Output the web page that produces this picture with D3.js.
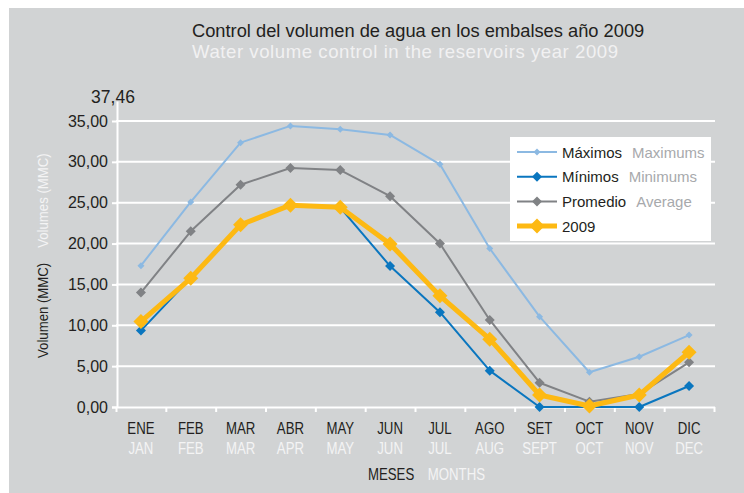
<!DOCTYPE html>
<html>
<head>
<meta charset="utf-8">
<script src="https://cdn.jsdelivr.net/npm/d3@7"></script>
<style>
html,body{margin:0;padding:0;background:#fff;}
svg{display:block;}
</style>
</head>
<body>
<svg id="chart" width="744" height="493"></svg>
<script>
// ---- data ----
const monthsEs = ["ENE","FEB","MAR","ABR","MAY","JUN","JUL","AGO","SET","OCT","NOV","DIC"];
const monthsEn = ["JAN","FEB","MAR","APR","MAY","JUN","JUL","AUG","SEPT","OCT","NOV","DEC"];
const maximos  = [17.3, 25.1, 32.35, 34.4, 34.0, 33.3, 29.7, 19.4, 11.05, 4.25, 6.15, 8.8];
const minimos  = [9.35, 15.8, 22.2, 24.7, 24.4, 17.25, 11.6, 4.45, 0.0, 0.0, 0.0, 2.57];
const promedio = [14.0, 21.5, 27.2, 29.25, 29.0, 25.8, 20.0, 10.65, 2.97, 0.65, 1.6, 5.47];
const y2009    = [10.45, 15.75, 22.3, 24.7, 24.45, 19.95, 13.6, 8.3, 1.47, 0.12, 1.47, 6.7];
const yTicks   = [0, 5, 10, 15, 20, 25, 30, 35];
const yMax = 37.46;
const seriesNamesEs = ["Máximos","Mínimos","Promedio","2009"];
const seriesNamesEn = ["Maximums","Minimums","Average",""];

const svg = d3.select("#chart");
const W = 744, H = 493;
const font = "'Liberation Sans', Arial, sans-serif";
const condense = 0.8;

// background
svg.append("rect").attr("x", 9).attr("y", 8).attr("width", W - 9).attr("height", H - 8).attr("fill", "#d1d3d4");

// scales
const x0 = 116, x1 = 714, yZero = 407, pxPerUnit = 286 / 35;
const x = d3.scaleBand().domain(monthsEs).range([x0, x1]);
const xLin = d3.scaleLinear().domain([0, 12]).range([x0, x1]);
const y = d3.scaleLinear().domain([0, yMax]).range([yZero, yZero - yMax * pxPerUnit]);
const cx = m => x(m) + x.bandwidth() / 2;

// gridlines
svg.append("g").selectAll("line").data(yTicks.filter(d => d > 0)).join("line")
  .attr("x1", x0).attr("x2", x1 + 1)
  .attr("y1", d => y(d)).attr("y2", d => y(d))
  .attr("stroke", "#ffffff").attr("stroke-width", 2);

// y axis
const fmt = d => d3.format(".2f")(d).replace(".", ",");
const yAxis = svg.append("g").attr("transform", `translate(${x0 + 1},0)`)
  .call(d3.axisLeft(y).tickValues(yTicks).tickFormat(fmt).tickSize(5).tickSizeOuter(0).tickPadding(4));
yAxis.select(".domain").attr("stroke", "#fff").attr("stroke-width", 2);
yAxis.selectAll(".tick line").attr("stroke", "#fff").attr("stroke-width", 2);
yAxis.selectAll(".tick text").attr("font-family", font).attr("font-size", 16).attr("fill", "#231f20");

// top label
svg.append("text").attr("x", 113).attr("y", 103).attr("text-anchor", "middle")
  .attr("font-family", font).attr("font-size", 17.5).attr("fill", "#231f20").text(fmt(yMax));

// x axis
const xAxis = svg.append("g").attr("transform", `translate(0,${yZero})`)
  .call(d3.axisBottom(xLin).tickValues(d3.range(0, 13)).tickFormat("").tickSize(5).tickSizeOuter(0));
xAxis.select(".domain").attr("stroke", "#fff").attr("stroke-width", 2).attr("d", `M${x0 - 4},0.5H${x1 + 1}`);
xAxis.selectAll(".tick line").attr("stroke", "#fff").attr("stroke-width", 2);

// x labels (condensed look)
const lblG = svg.append("g").attr("font-family", font).attr("font-size", 16.5).attr("text-anchor", "middle");
lblG.selectAll("text.es").data(monthsEs).join("text").attr("class", "es")
  .attr("transform", d => `translate(${cx(d)},434) scale(${condense},1)`).attr("fill", "#231f20").text(d => d);
lblG.selectAll("text.en").data(monthsEn).join("text").attr("class", "en")
  .attr("transform", (d, i) => `translate(${cx(monthsEs[i])},454) scale(${condense},1)`).attr("fill", "#f4f4f4").text(d => d);

const xt = svg.append("text").attr("transform", `translate(368,480) scale(${condense},1)`)
  .attr("font-family", font).attr("font-size", 16.5);
xt.append("tspan").attr("fill", "#231f20").text("MESES");
xt.append("tspan").attr("dx", 17).attr("fill", "#f4f4f4").text("MONTHS");

// y title
const yt = svg.append("text").attr("transform", "translate(47.5,358) rotate(-90) scale(0.88,1)")
  .attr("font-family", font).attr("font-size", 15);
yt.append("tspan").attr("fill", "#231f20").text("Volumen (MMC)");
yt.append("tspan").attr("dx", 17).attr("fill", "#f4f4f4").text("Volumes (MMC)");

// title
svg.append("text").attr("x", 192).attr("y", 37).attr("font-family", font).attr("font-size", 18.3)
  .attr("fill", "#231f20").text("Control del volumen de agua en los embalses año 2009");
svg.append("text").attr("x", 192).attr("y", 58).attr("font-family", font).attr("font-size", 18.6)
  .attr("textLength", 426).attr("lengthAdjust", "spacing")
  .attr("fill", "#f1f1f2").text("Water volume control in the reservoirs year 2009");

// series
const series = [
  {es: seriesNamesEs[0], en: seriesNamesEn[0], values: maximos,  color: "#8cb9e2", width: 2,   r: 3.5},
  {es: seriesNamesEs[1], en: seriesNamesEn[1], values: minimos,  color: "#0a76bf", width: 2,   r: 5},
  {es: seriesNamesEs[2], en: seriesNamesEn[2], values: promedio, color: "#808285", width: 2,   r: 5},
  {es: seriesNamesEs[3], en: seriesNamesEn[3], values: y2009,    color: "#fdb913", width: 5,   r: 7.5}
];
const diamond = r => `M0,${-r}L${r},0L0,${r}L${-r},0Z`;
const line = d3.line().x((d, i) => cx(monthsEs[i])).y(d => y(d));

series.forEach(s => {
  const g = svg.append("g");
  g.append("path").attr("d", line(s.values)).attr("fill", "none")
    .attr("stroke", s.color).attr("stroke-width", s.width).attr("stroke-linejoin", "round");
  g.selectAll("path.m").data(s.values).join("path").attr("class", "m")
    .attr("d", diamond(s.r))
    .attr("transform", (d, i) => `translate(${cx(monthsEs[i])},${y(d)})`)
    .attr("fill", s.color);
});

// legend
const lg = svg.append("g");
lg.append("rect").attr("x", 510).attr("y", 137).attr("width", 201).attr("height", 104).attr("fill", "#fff");
series.forEach((s, i) => {
  const ly = 152 + i * 24.7;
  lg.append("line").attr("x1", 517).attr("x2", 557).attr("y1", ly).attr("y2", ly)
    .attr("stroke", s.color).attr("stroke-width", s.width);
  lg.append("path").attr("d", diamond(s.r)).attr("transform", `translate(537,${ly})`).attr("fill", s.color);
  const t = lg.append("text").attr("x", 562).attr("y", ly + 5.5).attr("font-family", font).attr("font-size", 15);
  t.append("tspan").attr("fill", "#231f20").text(s.es);
  if (s.en) t.append("tspan").attr("dx", 10).attr("fill", "#a7a9ac").text(s.en);
});
</script>
</body>
</html>
